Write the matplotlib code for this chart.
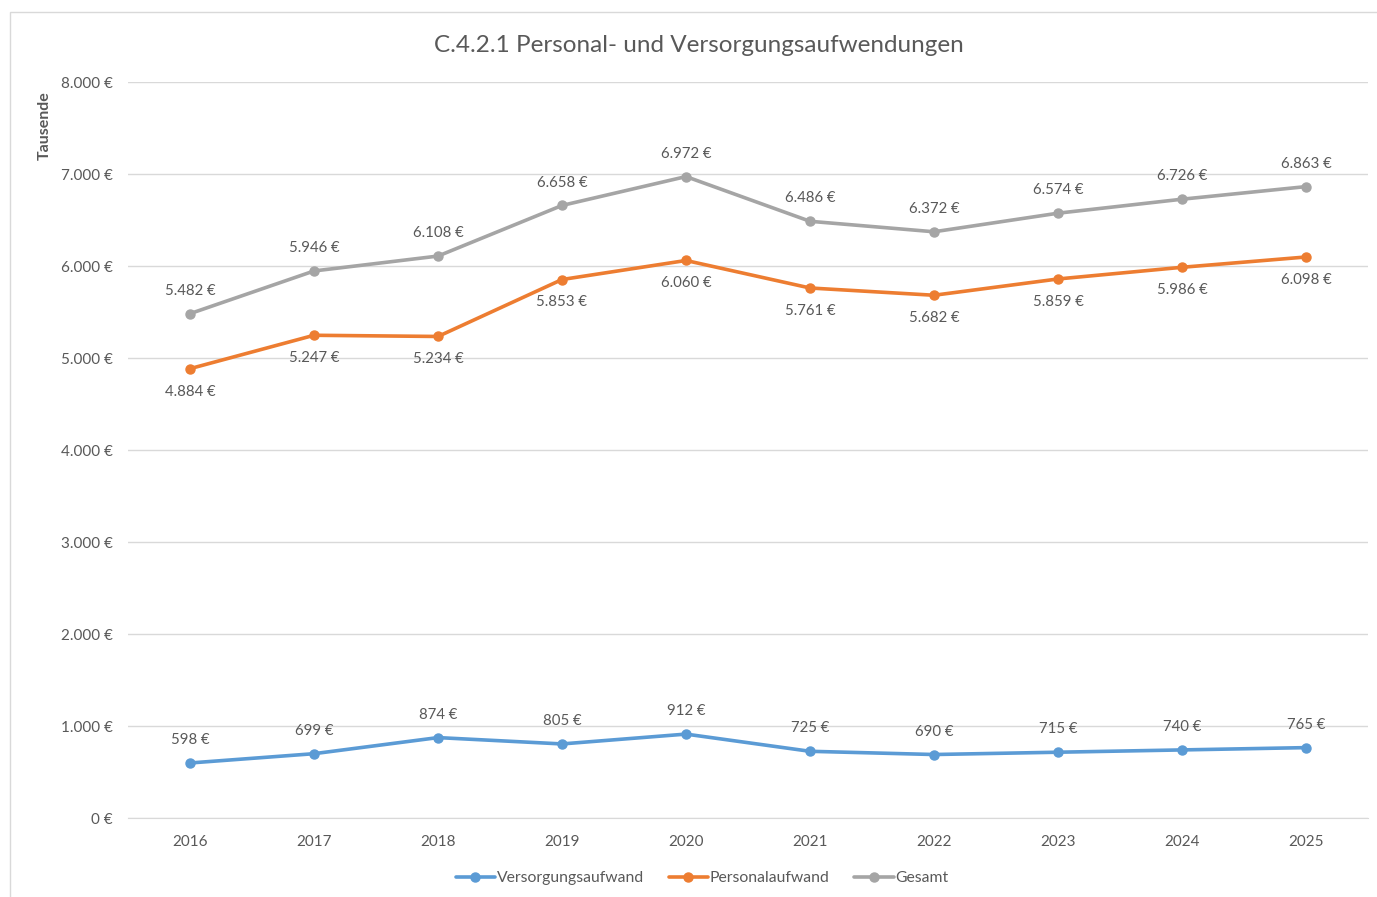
import matplotlib.pyplot as plt
from matplotlib.patches import Rectangle

years = ["2016", "2017", "2018", "2019", "2020", "2021", "2022", "2023", "2024", "2025"]
versorgung = [598, 699, 874, 805, 912, 725, 690, 715, 740, 765]
personal = [4884, 5247, 5234, 5853, 6060, 5761, 5682, 5859, 5986, 6098]
gesamt = [5482, 5946, 6108, 6658, 6972, 6486, 6372, 6574, 6726, 6863]

plt.rcParams["font.family"] = ["Lato", "DejaVu Sans"]


def eur(v):
    return f"{v:,.0f}".replace(",", ".") + "\u202f€"


fig = plt.figure(figsize=(13.77, 8.97), dpi=100)
fig.patches.append(Rectangle((10 / 1377, -0.05), 1.0, 1.05 - 12 / 897,
                             transform=fig.transFigure, fill=False,
                             edgecolor="#D9D9D9", linewidth=1))
ax = fig.add_axes([128 / 1377, 1 - 818 / 897, 1240 / 1377, 736 / 897])

x = list(range(len(years)))
series = [
    ("Versorgungsaufwand", versorgung, "#5B9BD5", 1),
    ("Personalaufwand", personal, "#ED7D31", -1),
    ("Gesamt", gesamt, "#A5A5A5", 1),
]
for name, vals, col, side in series:
    ax.plot(x, vals, color=col, linewidth=2.6, marker="o", markersize=6.5,
            label=name, solid_capstyle="round")
    for xi, v in zip(x, vals):
        ax.annotate(eur(v), (xi, v), xytext=(0, 16.5 * side), textcoords="offset points",
                    ha="center", va="center", fontsize=10.8, color="#595959")

ax.set_xlim(-0.5, 9.5)
ax.set_ylim(0, 8000)
ax.set_yticks(range(0, 8001, 1000))
ax.set_yticklabels([eur(v) for v in range(0, 8001, 1000)])
ax.set_xticks(x)
ax.set_xticklabels(years)
ax.tick_params(length=0, labelsize=11, colors="#595959")
ax.tick_params(axis="x", pad=12)
ax.tick_params(axis="y", pad=11)
ax.grid(axis="y", color="#D9D9D9", linewidth=1)
ax.set_axisbelow(True)
for s in ["top", "right", "left"]:
    ax.spines[s].set_visible(False)
ax.spines["bottom"].set_color("#D9D9D9")

fig.text(45 / 1377, 1 - 126 / 897, "Tausende", rotation=90, ha="center", va="center",
         fontsize=11.5, fontweight="bold", color="#595959")
fig.text(699 / 1377, 1 - 45 / 897, "C.4.2.1 Personal- und Versorgungsaufwendungen",
         ha="center", va="center", fontsize=17.5, color="#595959")

fig.legend(loc="center", bbox_to_anchor=(702 / 1377, 1 - 878 / 897), ncol=3, frameon=False,
           fontsize=11.3, labelcolor="#595959", handlelength=2.5, handletextpad=0.1,
           columnspacing=1.6)

fig.savefig("out.png", dpi=100)
